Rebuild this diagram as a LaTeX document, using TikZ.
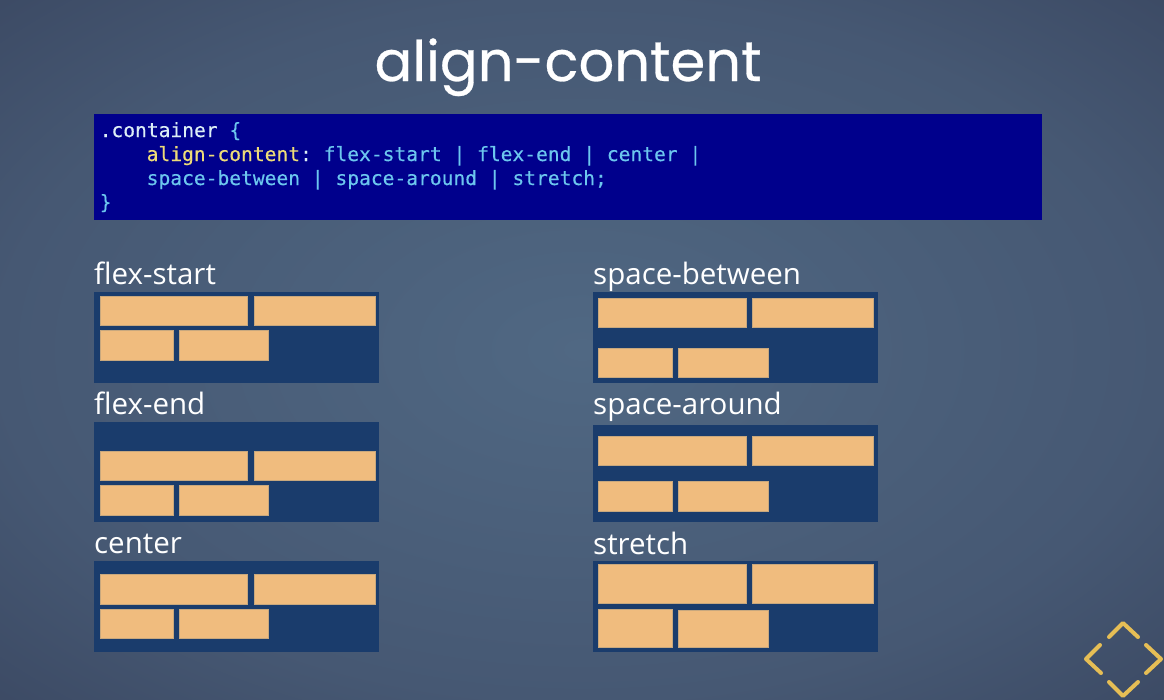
\documentclass[tikz,border=0pt]{standalone}
\usepackage{fontspec}
\setmainfont{Open Sans}
\newfontfamily\titlefont[FakeBold=0.5]{Poppins}
\newfontfamily\codefont[FakeBold=0.35]{DejaVu Sans Mono}
\usetikzlibrary{positioning}
\definecolor{slatemid}{HTML}{506883}
\definecolor{slatenear}{HTML}{465873}
\definecolor{slateedge}{HTML}{3C4A64}
\definecolor{boxblue}{HTML}{1A3C6C}
\definecolor{itemorange}{HTML}{F0BC7E}
\definecolor{itemedge}{HTML}{C8A87E}
\definecolor{codeblue}{HTML}{00008C}
\definecolor{codecyan}{HTML}{6CC6EE}
\definecolor{codeyellow}{HTML}{EEDC78}
\definecolor{codewhite}{HTML}{DCEEF6}
\definecolor{chevgold}{HTML}{E6BE55}
\pgfdeclareradialshading{slideglow}{\pgfpoint{0bp}{0bp}}{color(0bp)=(slatemid); color(25bp)=(slatenear); color(36bp)=(slateedge); color(50bp)=(slateedge)}

\begin{document}
\begin{tikzpicture}[x=1pt, y=-1pt,
    panel/.style={fill=boxblue},
    item/.style={fill=itemorange, draw=itemedge, line width=0.3pt},
    heading/.style={anchor=base west, inner sep=0pt, text=white, font=\fontsize{29.5}{32}\selectfont},
    codeline/.style={anchor=base west, inner sep=0pt, text=codecyan, font=\codefont\frenchspacing\fontsize{19.6}{24}\selectfont},
    chevron/.style={draw=chevgold, line width=4pt, line cap=round, line join=round}]
    \useasboundingbox (0,0) rectangle (1164,699);

    % Background
    \shade[shading=slideglow] (0,0) rectangle (1164,699);

    % Title
    \node[anchor=base, inner sep=0pt, text=white, font=\titlefont\fontsize{56}{60}\selectfont] (title) at (568,81) {align-content};

    % Code block
    \fill[codeblue] (94,114) rectangle (1042,220);
    \node[codeline] (codea) at (99.5,137) {\textcolor{codewhite}{.container} \{};
    \node[codeline] (codeb) at (146.5,161) {\textcolor{codeyellow}{align-content}\textcolor{codewhite}{:} flex-start | flex-end | center |};
    \node[codeline] (codec) at (146.5,185) {space-between | space-around | stretch;};
    \node[codeline] (coded) at (99.5,209) {\}};

    % flex-start
    \node[heading] (flexstart) at (94,284) {flex-start};
    \fill[panel] (94,292) rectangle (379,383);
    \path[item] (100,296) rectangle (247.5,325.5) (254,296) rectangle (375,325.5);
    \path[item] (100,330) rectangle (173.5,360.5) (179,330) rectangle (268.5,360.5);

    % flex-end
    \node[heading] (flexend) at (94,414) {flex-end};
    \fill[panel] (94,422) rectangle (379,522);
    \path[item] (100,451) rectangle (247.5,480.5) (254,451) rectangle (375,480.5);
    \path[item] (100,485) rectangle (173.5,515.5) (179,485) rectangle (268.5,515.5);

    % center
    \node[heading] (center) at (94,553) {center};
    \fill[panel] (94,561) rectangle (379,652);
    \path[item] (100,574) rectangle (247.5,604.5) (254,574) rectangle (375,604.5);
    \path[item] (100,609) rectangle (173.5,638.5) (179,609) rectangle (268.5,638.5);

    % space-between
    \node[heading] (spacebetween) at (593,284) {space-between};
    \fill[panel] (593,292) rectangle (878,383);
    \path[item] (598.5,298) rectangle (746.5,327.5) (752.5,298) rectangle (873.5,327.5);
    \path[item] (598.5,348) rectangle (672.5,377.5) (678,348) rectangle (768,377.5);

    % space-around
    \node[heading] (spacearound) at (593,414) {space-around};
    \fill[panel] (593,425) rectangle (878,522);
    \path[item] (598.5,436) rectangle (746.5,465.5) (752.5,436) rectangle (873.5,465.5);
    \path[item] (598.5,481) rectangle (672.5,511.5) (678,481) rectangle (768,511.5);

    % stretch
    \node[heading] (stretch) at (593,554) {stretch};
    \fill[panel] (593,561) rectangle (878,652);
    \path[item] (598.5,564) rectangle (746.5,603.5) (752.5,564) rectangle (873.5,603.5);
    \path[item] (598.5,609) rectangle (672.5,647.5) (678,610) rectangle (768,647.5);

    % Corner logo
    \draw[chevron] (1109,637) -- (1123,623) -- (1138,637);
    \draw[chevron] (1109,682) -- (1123,696) -- (1138,682);
    \draw[chevron] (1100,645) -- (1086,659) -- (1101,673);
    \draw[chevron] (1146,645) -- (1161,659) -- (1146,673);
\end{tikzpicture}
\end{document}
